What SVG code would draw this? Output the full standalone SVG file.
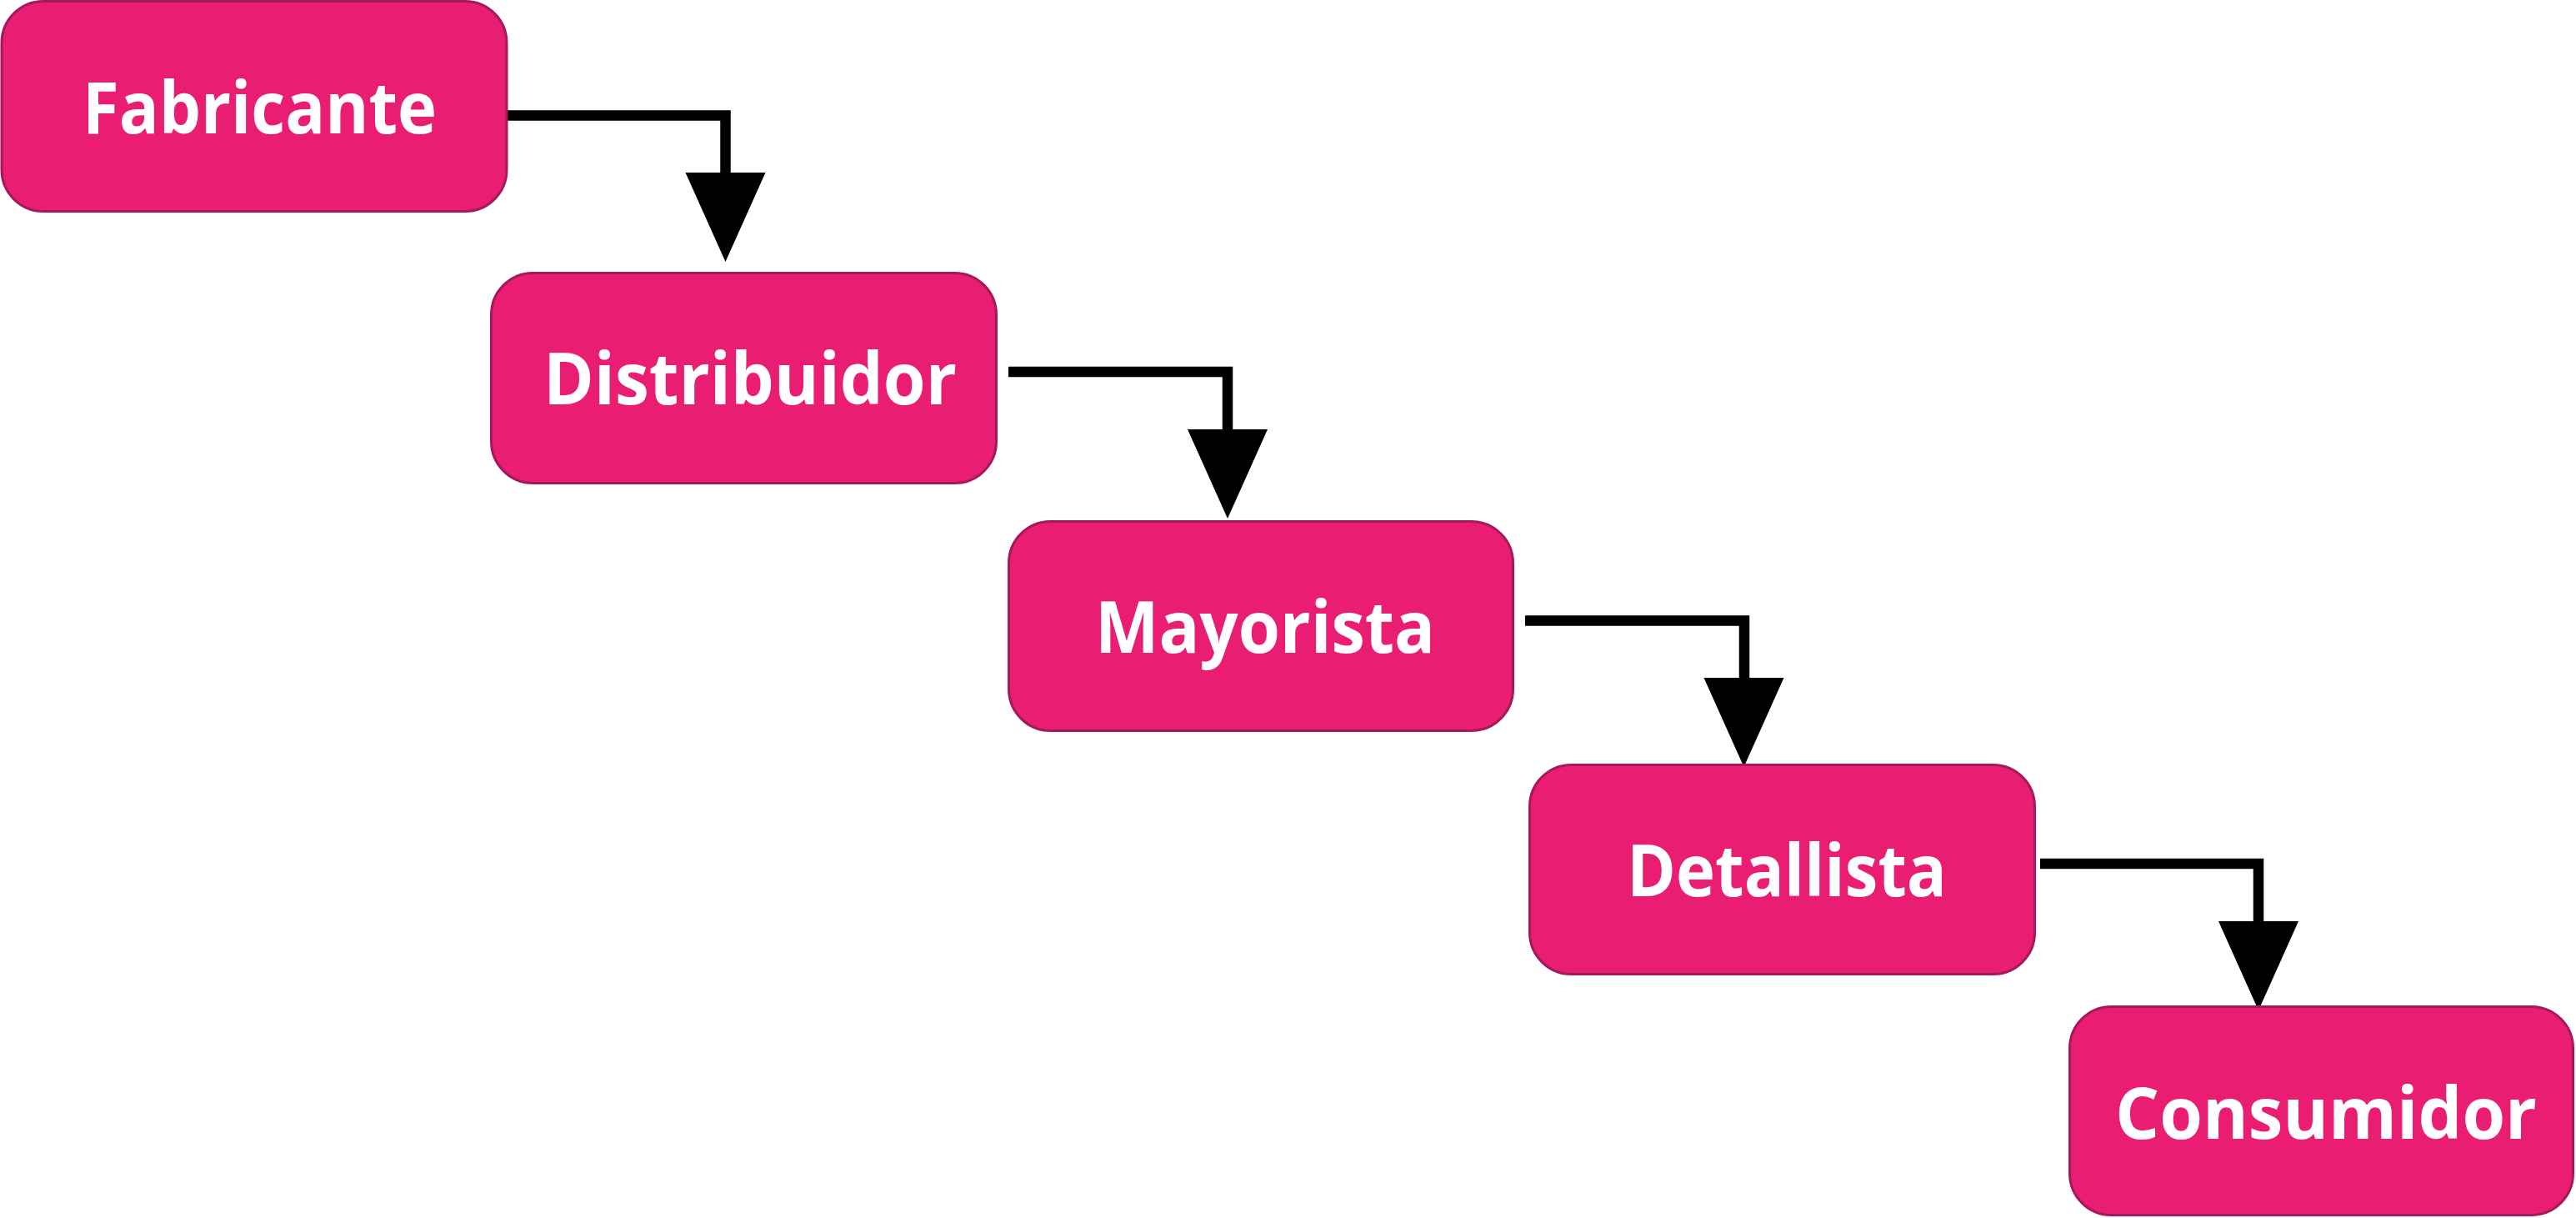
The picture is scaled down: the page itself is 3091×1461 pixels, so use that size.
<svg xmlns="http://www.w3.org/2000/svg" xmlns:xlink="http://www.w3.org/1999/xlink" width="3091" height="1461" viewBox="0 0 3091 1461">
  <style>
    .box { fill: #E91E73; stroke: #A3195B; stroke-width: 3; }
    .lbl { fill: #FFFFFF; font-family: "Open Sans", "Noto Sans", "Liberation Sans", sans-serif; font-weight: 700; font-size: 86px; text-anchor: middle; }
    .wire { fill: none; stroke: #000000; stroke-width: 12.5; stroke-linejoin: miter; stroke-linecap: butt; }
    .head { fill: #000000; }
  </style>
  <defs>
    <path id="arrowhead" class="head" d="M-48,0 L48,0 L0,107 Z"/>
  </defs>
  <rect x="0" y="0" width="3091" height="1461" fill="#FFFFFF"/>
  <g id="connectors">
    <path class="wire" d="M609,138.5 H870.5 V209"/>
    <use xlink:href="#arrowhead" x="870.5" y="207"/>
    <path class="wire" d="M1210,446 H1473 V517"/>
    <use xlink:href="#arrowhead" x="1473" y="515"/>
    <path class="wire" d="M1830,744.5 H2093 V815"/>
    <use xlink:href="#arrowhead" x="2092.5" y="813"/>
    <path class="wire" d="M2448,1036 H2710 V1107"/>
    <use xlink:href="#arrowhead" x="2710" y="1105"/>
  </g>
  <g id="fabricante">
    <rect class="box" x="2" y="1.5" width="606" height="252" rx="50" ry="50"/>
    <text class="lbl" x="311.5" y="160" textLength="425" lengthAdjust="spacingAndGlyphs">Fabricante</text>
  </g>
  <g id="distribuidor">
    <rect class="box" x="589.5" y="327.5" width="606" height="252" rx="50" ry="50"/>
    <text class="lbl" x="900" y="484.5" textLength="496" lengthAdjust="spacingAndGlyphs">Distribuidor</text>
  </g>
  <g id="mayorista">
    <rect class="box" x="1210.5" y="625.5" width="605" height="251" rx="50" ry="50"/>
    <text class="lbl" x="1518" y="783" textLength="408" lengthAdjust="spacingAndGlyphs">Mayorista</text>
  </g>
  <g id="detallista">
    <rect class="box" x="1835.5" y="917.5" width="606" height="251" rx="50" ry="50"/>
    <text class="lbl" x="2144" y="1074.5" textLength="384" lengthAdjust="spacingAndGlyphs">Detallista</text>
  </g>
  <g id="consumidor">
    <rect class="box" x="2483.5" y="1207.5" width="604" height="250" rx="50" ry="50"/>
    <text class="lbl" x="2791" y="1365.5" textLength="506" lengthAdjust="spacingAndGlyphs">Consumidor</text>
  </g>
</svg>
